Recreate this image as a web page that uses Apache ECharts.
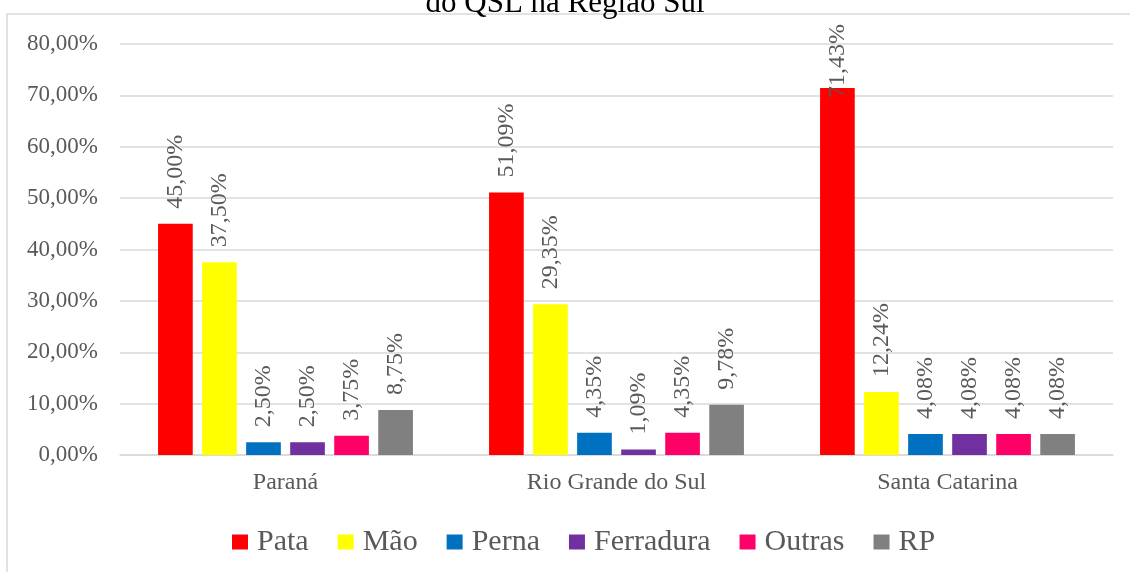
<!DOCTYPE html>
<html>
<head>
<meta charset="utf-8">
<script src="https://cdn.jsdelivr.net/npm/echarts@6/dist/echarts.min.js"></script>
<style>
  html, body { margin: 0; padding: 0; background: #fff; }
  #chart { width: 1130px; height: 572px; }
</style>
</head>
<body>
<div id="chart"></div>
<script>
// regiões e tipos de marcação
const categories = ['Paraná', 'Rio Grande do Sul', 'Santa Catarina']
const seriesNames = ['Pata', 'Mão', 'Perna', 'Ferradura', 'Outras', 'RP']
const pata = [45.0, 51.09, 71.43]
const mao = [37.5, 29.35, 12.24]
const perna = [2.5, 4.35, 4.08]
const ferradura = [2.5, 1.09, 4.08]
const outras = [3.75, 4.35, 4.08]
const rp = [8.75, 9.78, 4.08]
const colors = ['#FF0000', '#FFFF00', '#0070C0', '#7030A0', '#FF0066', '#808080']

const values = [pata, mao, perna, ferradura, outras, rp]
const serif = '"Liberation Serif", "DejaVu Serif", serif'
const fmt = (v) => v.toFixed(2).replace('.', ',') + '%'

const myChart = echarts.init(document.getElementById('chart'))

myChart.setOption({
  animation: false,
  textStyle: { fontFamily: serif },
  title: {
    text: 'do QSL na Região Sul',
    left: 'center',
    top: -17,
    textStyle: { fontFamily: serif, fontSize: 31, fontWeight: 'normal', color: '#000' },
  },
  graphic: [
    {
      type: 'rect',
      shape: { x: 7, y: 14, width: 1300, height: 700 },
      style: { fill: 'none', stroke: '#d9d9d9', lineWidth: 1.5 },
      silent: true,
    },
  ],
  legend: {
    data: seriesNames,
    left: 227,
    top: 522,
    itemWidth: 16,
    itemHeight: 15,
    itemGap: 29,
    icon: 'rect',
    textStyle: { fontFamily: serif, fontSize: 30, color: '#595959', padding: [0, 0, 0, 4] },
  },
  grid: { left: 120, right: 17, top: 44, bottom: 117 },
  xAxis: {
    type: 'category',
    data: categories,
    axisLine: { lineStyle: { color: '#d9d9d9', width: 1.5 } },
    axisTick: { show: false },
    axisLabel: { fontFamily: serif, fontSize: 24, color: '#595959', margin: 16 },
  },
  yAxis: {
    type: 'value',
    min: 0,
    max: 80,
    interval: 10,
    axisLine: { show: false },
    axisTick: { show: false },
    splitLine: { lineStyle: { color: '#d9d9d9', width: 1.5 } },
    axisLabel: {
      fontFamily: serif,
      fontSize: 23,
      color: '#595959',
      margin: 22,
      formatter: (v) => fmt(v),
    },
  },
  series: seriesNames.map((name, i) => ({
    name: name,
    type: 'bar',
    // o rótulo mais alto fica empurrado para dentro da área, como no original
    data: values[i].map((v) =>
      v > 70 ? { value: v, label: { distance: -10 } } : v
    ),
    barGap: '27%',
    barCategoryGap: '23%',
    itemStyle: { color: colors[i] },
    label: {
      show: true,
      position: 'top',
      rotate: 90,
      align: 'left',
      verticalAlign: 'middle',
      distance: 15,
      fontFamily: serif,
      fontSize: 24,
      color: '#595959',
      formatter: (p) => fmt(p.value),
    },
  })),
})
</script>
</body>
</html>
